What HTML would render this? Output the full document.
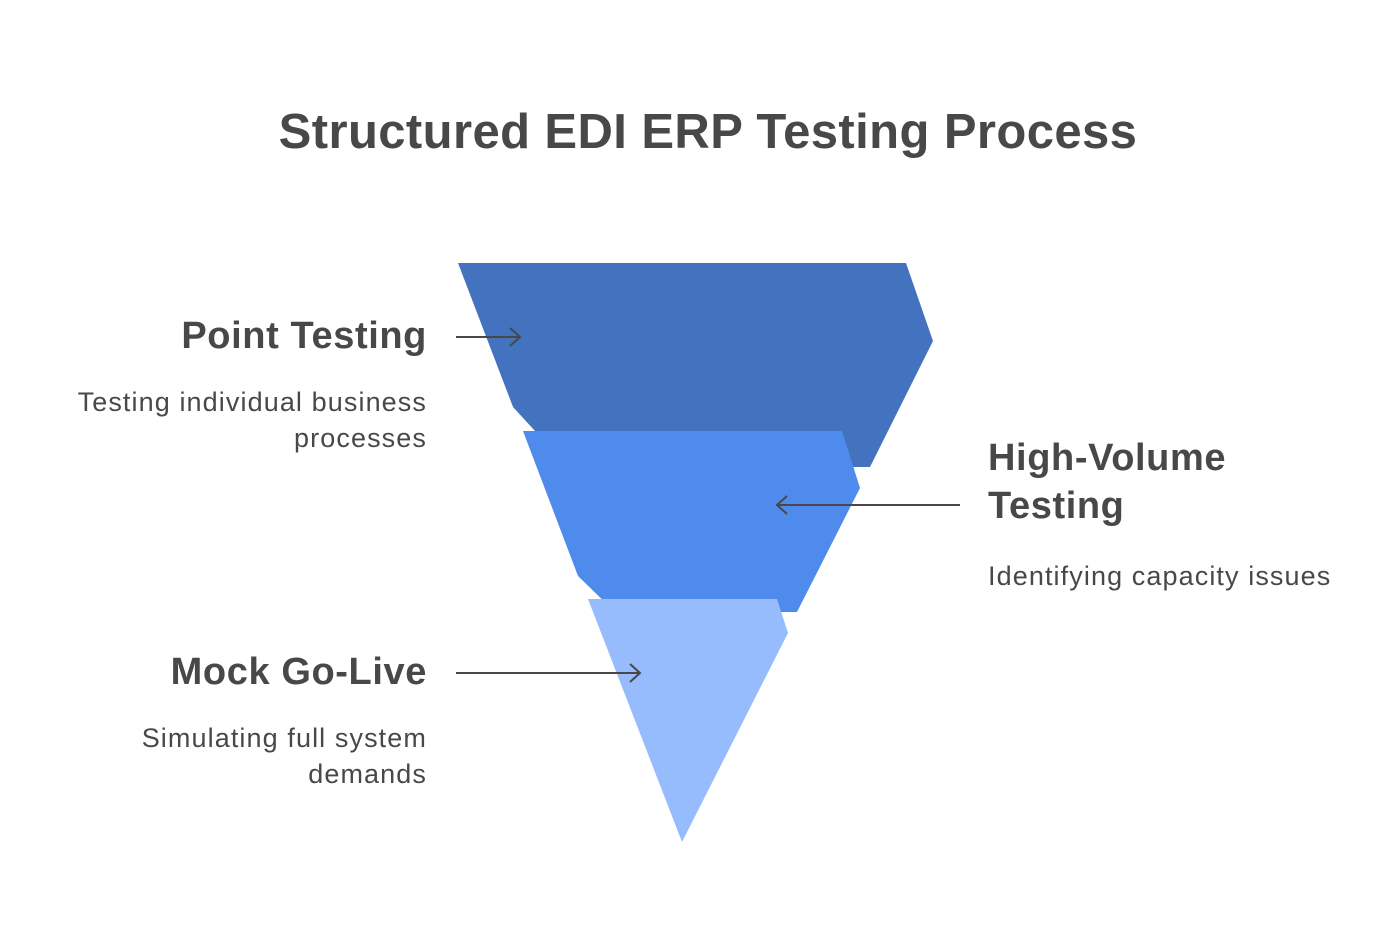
<!DOCTYPE html>
<html><head><meta charset="utf-8"><style>
body{margin:0;background:#fff;width:1392px;height:936px;overflow:hidden;position:relative;font-family:"Liberation Sans",Arial,sans-serif;color:#484848}
.t{position:absolute;white-space:nowrap}
.h{font-size:38px;font-weight:bold;letter-spacing:0.6px}
.s{font-size:27px;letter-spacing:1.1px;line-height:36px}
</style></head><body>
<div class="t" style="left:0;width:1416px;text-align:center;top:104px;font-size:49px;font-weight:bold;letter-spacing:0.4px">Structured EDI ERP Testing Process</div>
<svg width="1392" height="936" style="position:absolute;left:0;top:0">
<polygon points="458,263 906,263 933,341 870,467 568,467 513,407" fill="#4372BE"/>
<polygon points="523,431 842,431 860,488 797,612 615,612 578,576" fill="#4E8BEC"/>
<polygon points="588,599 777,599 788,633 682,842" fill="#97BCFE"/>
<g stroke="#484848" stroke-width="2" fill="none">
<line x1="456" y1="337" x2="520" y2="337"/><polyline points="510,328 520,337 510,346"/>
<line x1="960" y1="505" x2="777" y2="505"/><polyline points="787,496 777,505 787,514"/>
<line x1="456" y1="673" x2="640" y2="673"/><polyline points="630,664 640,673 630,682"/>
</g></svg>
<div class="t h" style="right:965px;top:315px">Point Testing</div>
<div class="t s" style="right:965px;top:384px;text-align:right">Testing individual business<br>processes</div>
<div class="t h" style="left:988px;top:434px;line-height:48px">High-Volume<br>Testing</div>
<div class="t s" style="left:988px;top:558px">Identifying capacity issues</div>
<div class="t h" style="right:965px;top:651px">Mock Go-Live</div>
<div class="t s" style="right:965px;top:720px;text-align:right">Simulating full system<br>demands</div>
</body></html>
